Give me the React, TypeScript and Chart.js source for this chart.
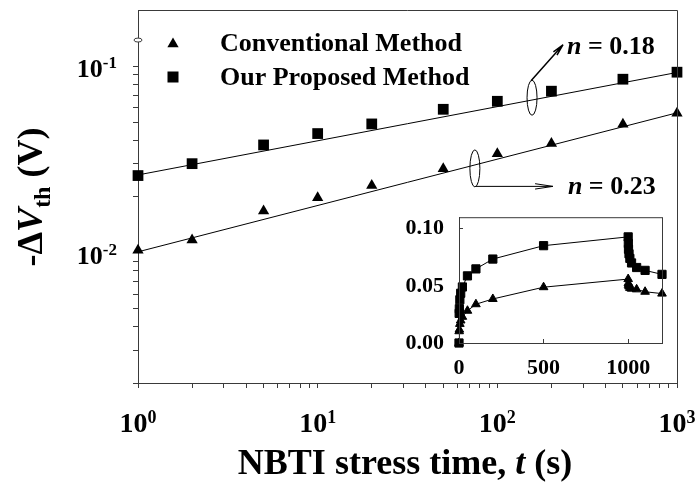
import React, { useEffect, useRef } from 'react';
import { Chart, registerables } from 'chart.js';

Chart.register(...registerables);

// ---------------- data ----------------
const stressTimes = [1, 2, 5, 10, 20, 50, 100, 200, 500, 1000];
const proposedShift = [0.0259, 0.0300, 0.0378, 0.0435, 0.0490, 0.0587, 0.0648, 0.0734, 0.0851, 0.0928];
const conventionalShift = [0.0103, 0.0117, 0.0167, 0.0197, 0.0229, 0.0282, 0.0339, 0.0385, 0.0488, 0.0559];

const fitTimes = [1, 1000];
const proposedFit = [0.0261, 0.0925];
const conventionalFit = [0.0101, 0.0562];

const xMinorTicks = [1, 2, 3, 4, 5, 6, 7, 8, 9, 10, 20, 30, 40, 50, 60, 70, 80, 90, 100, 200, 300, 400, 500, 600, 700, 800, 900, 1000];
const yMinorTicks = [0.002, 0.003, 0.004, 0.005, 0.006, 0.007, 0.008, 0.009, 0.01, 0.02, 0.03, 0.04, 0.05, 0.06, 0.07, 0.08, 0.09, 0.1];
const xMajorTicks = [1, 10, 100, 1000];
const xTickExponents = ['0', '1', '2', '3'];
const yMajorTicks = [0.01, 0.1];
const yTickExponents = ['-2', '-1'];
const axisBreakValue = 0.138;

const legendLabels = ['Conventional Method', 'Our Proposed Method'];
const slopeLabels = ['0.18', '0.23'];
// annotation anchors (data coordinates: time, shift)
const slopeAnchorTimes = [156, 75];
const slopeAnchorShifts = [0.0677, 0.0283];

const insetTimes = [0, 1, 2, 5, 10, 20, 50, 100, 200, 500, 1000, 1001, 1002, 1005, 1010, 1020, 1050, 1100, 1200];
const insetProposed = [0, 0.0259, 0.0300, 0.0378, 0.0435, 0.0490, 0.0587, 0.0648, 0.0734, 0.0851, 0.0928, 0.087, 0.082, 0.078, 0.074, 0.070, 0.066, 0.0635, 0.060];
const insetConventional = [0, 0.0103, 0.0117, 0.0167, 0.0197, 0.0229, 0.0282, 0.0339, 0.0385, 0.0488, 0.0559, 0.0523, 0.0508, 0.0495, 0.0482, 0.0475, 0.0469, 0.0448, 0.0432];
const insetXTicks = [0, 500, 1000];
const insetYTicks = [0, 0.05, 0.1];

// ---------------- style ----------------
const FONT = "'Liberation Serif', 'Times New Roman', serif";
const AXIS = '#3a3a3a';

type Run = { text: string; font: string; dy?: number };

function drawRuns(ctx: CanvasRenderingContext2D, runs: Run[], x: number, y: number, align: 'left' | 'center' | 'right') {
  let total = 0;
  const widths = runs.map((r) => {
    ctx.font = r.font;
    const w = ctx.measureText(r.text).width;
    total += w;
    return w;
  });
  let cx = align === 'left' ? x : align === 'center' ? x - total / 2 : x - total;
  ctx.textAlign = 'left';
  ctx.textBaseline = 'alphabetic';
  runs.forEach((r, i) => {
    ctx.font = r.font;
    ctx.fillText(r.text, cx, y + (r.dy || 0));
    cx += widths[i];
  });
}

function drawPower(ctx: CanvasRenderingContext2D, exp: string, x: number, y: number, align: 'center' | 'right', size: number, supSize: number, rise: number) {
  drawRuns(ctx, [
    { text: '10', font: `bold ${size}px ${FONT}` },
    { text: exp, font: `bold ${supSize}px ${FONT}`, dy: -rise },
  ], x, y, align);
}

function triangle(ctx: CanvasRenderingContext2D, x: number, y: number, r: number) {
  ctx.beginPath();
  ctx.moveTo(x, y - r);
  ctx.lineTo(x + r * Math.sqrt(3) / 2, y + r / 2);
  ctx.lineTo(x - r * Math.sqrt(3) / 2, y + r / 2);
  ctx.closePath();
  ctx.fill();
}

function arrow(ctx: CanvasRenderingContext2D, x1: number, y1: number, x2: number, y2: number, len: number, ang: number) {
  ctx.beginPath();
  ctx.moveTo(x1, y1);
  ctx.lineTo(x2, y2);
  const a = Math.atan2(y2 - y1, x2 - x1);
  ctx.moveTo(x2, y2);
  ctx.lineTo(x2 - len * Math.cos(a - ang), y2 - len * Math.sin(a - ang));
  ctx.moveTo(x2, y2);
  ctx.lineTo(x2 - len * Math.cos(a + ang), y2 - len * Math.sin(a + ang));
  ctx.stroke();
}

const mainDecor = {
  id: 'mainDecor',
  afterDraw(chart: any) {
    const { ctx, chartArea: a } = chart;
    const xs = chart.scales.x;
    const ys = chart.scales.y;
    ctx.save();
    // frame top/right
    ctx.strokeStyle = AXIS;
    ctx.lineWidth = 1;
    ctx.beginPath();
    ctx.moveTo(a.left, a.top + 0.5);
    ctx.lineTo(a.right + 0.5, a.top + 0.5);
    ctx.lineTo(a.right + 0.5, a.bottom);
    ctx.stroke();
    // axis break mark
    const by = ys.getPixelForValue(axisBreakValue);
    ctx.fillStyle = '#fff';
    ctx.beginPath();
    ctx.ellipse(a.left, by, 4, 2, 0, 0, Math.PI * 2);
    ctx.fill();
    ctx.stroke();

    ctx.fillStyle = '#000';
    // tick labels
    yMajorTicks.forEach((v, i) => drawPower(ctx, yTickExponents[i], a.left - 21, ys.getPixelForValue(v) + 11, 'right', 26, 17, 9));
    xMajorTicks.forEach((v, i) => drawPower(ctx, xTickExponents[i], xs.getPixelForValue(v), a.bottom + 49, 'center', 28, 18, 9));

    // x title
    drawRuns(ctx, [
      { text: 'NBTI stress time, ', font: `bold 36px ${FONT}` },
      { text: 't', font: `italic bold 36px ${FONT}` },
      { text: ' (s)', font: `bold 36px ${FONT}` },
    ], 405, 474, 'center');

    // y title
    ctx.save();
    ctx.translate(42, 197);
    ctx.rotate(-Math.PI / 2);
    drawRuns(ctx, [
      { text: '-\u0394', font: `bold 36px ${FONT}` },
      { text: 'V', font: `italic bold 36px ${FONT}` },
      { text: 'th', font: `bold 24px ${FONT}`, dy: 8 },
      { text: ' (V)', font: `bold 36px ${FONT}` },
    ], 0, 0, 'center');
    ctx.restore();

    // legend
    triangle(ctx, 173, 44, 6.5);
    ctx.fillRect(167.5, 71.5, 11, 11);
    ctx.font = `bold 26px ${FONT}`;
    ctx.textAlign = 'left';
    ctx.textBaseline = 'middle';
    ctx.fillText(legendLabels[0], 220, 44);
    ctx.fillText(legendLabels[1], 220, 78);

    // slope annotations
    ctx.strokeStyle = '#000';
    ctx.lineWidth = 1;
    const e1x = xs.getPixelForValue(slopeAnchorTimes[0]);
    const e1y = ys.getPixelForValue(slopeAnchorShifts[0]);
    ctx.beginPath();
    ctx.ellipse(e1x, e1y, 5, 17.5, 0, 0, Math.PI * 2);
    ctx.stroke();
    ctx.lineWidth = 1.5;
    arrow(ctx, e1x - 1, e1y - 17, e1x + 31, e1y - 53, 12, 0.2);
    ctx.lineWidth = 1;
    drawRuns(ctx, [
      { text: 'n', font: `italic bold 26px ${FONT}` },
      { text: ' = ' + slopeLabels[0], font: `bold 26px ${FONT}` },
    ], e1x + 35, e1y - 44, 'left');

    const e2x = xs.getPixelForValue(slopeAnchorTimes[1]);
    const e2y = ys.getPixelForValue(slopeAnchorShifts[1]);
    ctx.beginPath();
    ctx.ellipse(e2x, e2y, 5, 18.5, 0, 0, Math.PI * 2);
    ctx.stroke();
    arrow(ctx, e2x + 1, e2y + 18, e2x + 78, e2y + 18, 18, 0.15);
    drawRuns(ctx, [
      { text: 'n', font: `italic bold 26px ${FONT}` },
      { text: ' = ' + slopeLabels[1], font: `bold 26px ${FONT}` },
    ], e2x + 93, e2y + 26, 'left');

    ctx.restore();
  },
};

const insetDecor = {
  id: 'insetDecor',
  afterDraw(chart: any) {
    const { ctx, chartArea: a } = chart;
    ctx.save();
    ctx.strokeStyle = AXIS;
    ctx.lineWidth = 1;
    ctx.strokeRect(a.left + 0.5, a.top + 0.5, a.right - a.left, a.bottom - a.top);
    ctx.restore();
  },
};

export default function App() {
  const mainRef = useRef<HTMLCanvasElement>(null);
  const insetRef = useRef<HTMLCanvasElement>(null);

  useEffect(() => {
    const mainChart = new Chart(mainRef.current!, {
      type: 'scatter',
      data: {
        datasets: [
          {
            label: legendLabels[1],
            data: stressTimes.map((t, i) => ({ x: t, y: proposedShift[i] })),
            pointStyle: 'rect',
            pointRadius: 7.6,
            backgroundColor: '#000',
            borderColor: '#000',
            borderWidth: 0,
            showLine: false,
            clip: false,
          },
          {
            label: legendLabels[0],
            data: stressTimes.map((t, i) => ({ x: t, y: conventionalShift[i] })),
            pointStyle: 'triangle',
            pointRadius: 6.5,
            backgroundColor: '#000',
            borderColor: '#000',
            borderWidth: 0,
            showLine: false,
            clip: false,
          },
          {
            label: 'fit1',
            data: fitTimes.map((t, i) => ({ x: t, y: proposedFit[i] })),
            showLine: true,
            pointRadius: 0,
            borderColor: '#000',
            borderWidth: 1,
            clip: false,
          },
          {
            label: 'fit2',
            data: fitTimes.map((t, i) => ({ x: t, y: conventionalFit[i] })),
            showLine: true,
            pointRadius: 0,
            borderColor: '#000',
            borderWidth: 1,
            clip: false,
          },
        ],
      },
      options: {
        responsive: false,
        animation: false,
        events: [],
        layout: { padding: { left: 0, right: 22, top: 10, bottom: 0 } },
        plugins: { legend: { display: false }, tooltip: { enabled: false } },
        scales: {
          x: {
            type: 'logarithmic',
            min: 1,
            max: 1000,
            afterBuildTicks: (s: any) => { s.ticks = xMinorTicks.map((v) => ({ value: v })); },
            afterFit: (s: any) => { s.height = 108; },
            ticks: { display: false },
            grid: { display: true, drawOnChartArea: false, drawTicks: true, tickLength: 5, color: AXIS },
            border: { display: true, color: AXIS },
          },
          y: {
            type: 'logarithmic',
            min: 0.002,
            max: 0.2,
            afterBuildTicks: (s: any) => { s.ticks = yMinorTicks.map((v) => ({ value: v })); },
            afterFit: (s: any) => { s.width = 138; },
            ticks: { display: false },
            grid: { display: true, drawOnChartArea: false, drawTicks: true, tickLength: 5, color: AXIS },
            border: { display: true, color: AXIS },
          },
        },
      },
      plugins: [mainDecor],
    } as any);

    const insetChart = new Chart(insetRef.current!, {
      type: 'scatter',
      data: {
        datasets: [
          {
            label: legendLabels[1],
            data: insetTimes.map((t, i) => ({ x: t, y: insetProposed[i] })),
            pointStyle: 'rect',
            pointRadius: 5.8,
            backgroundColor: '#000',
            borderColor: '#000',
            borderWidth: 1,
            showLine: true,
            clip: false,
          },
          {
            label: legendLabels[0],
            data: insetTimes.map((t, i) => ({ x: t, y: insetConventional[i] })),
            pointStyle: 'triangle',
            pointRadius: 5,
            backgroundColor: '#000',
            borderColor: '#000',
            borderWidth: 1,
            showLine: true,
            clip: false,
          },
        ],
      },
      options: {
        responsive: false,
        animation: false,
        events: [],
        layout: { padding: { left: 0, right: 37, top: 18, bottom: 0 } },
        plugins: { legend: { display: false }, tooltip: { enabled: false } },
        scales: {
          x: {
            type: 'linear',
            min: 0,
            max: 1200,
            afterBuildTicks: (s: any) => { s.ticks = insetXTicks.map((v) => ({ value: v })); },
            afterFit: (s: any) => { s.height = 52; },
            ticks: {
              color: '#000',
              font: { family: FONT, size: 22, weight: 'bold' },
              padding: 16,
              maxRotation: 0,
              autoSkip: false,
              callback: (v: any) => String(v),
            },
            grid: { display: true, drawOnChartArea: false, drawTicks: true, tickLength: -4, color: AXIS },
            border: { display: true, color: AXIS },
          },
          y: {
            type: 'linear',
            min: 0,
            max: 0.11,
            afterBuildTicks: (s: any) => { s.ticks = insetYTicks.map((v) => ({ value: v })); },
            afterFit: (s: any) => { s.width = 69; },
            ticks: {
              color: '#000',
              font: { family: FONT, size: 22, weight: 'bold' },
              padding: 19,
              autoSkip: false,
              callback: (v: any) => Number(v).toFixed(2),
            },
            grid: { display: true, drawOnChartArea: false, drawTicks: true, tickLength: -4, color: AXIS },
            border: { display: true, color: AXIS },
          },
        },
      },
      plugins: [insetDecor],
    } as any);

    return () => {
      mainChart.destroy();
      insetChart.destroy();
    };
  }, []);

  return (
    <div style={{ position: 'absolute', left: 0, top: 0, width: 699, height: 491, background: '#fff' }}>
      <canvas ref={mainRef} width={699} height={491} style={{ position: 'absolute', left: 0, top: 0 }} />
      <canvas ref={insetRef} width={309} height={210} style={{ position: 'absolute', left: 390, top: 185 }} />
    </div>
  );
}
